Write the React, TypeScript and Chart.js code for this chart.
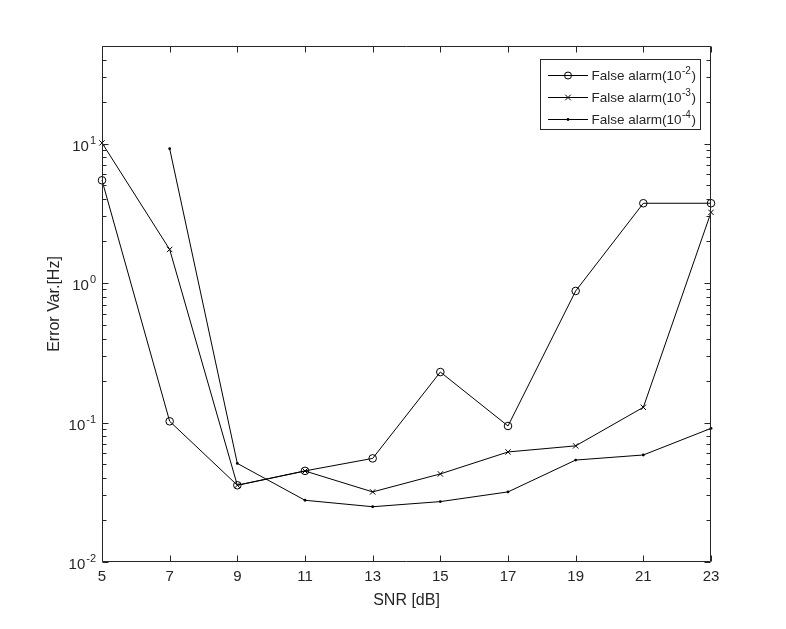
import React, { useEffect, useRef } from "react";
import { Chart, registerables } from "chart.js";

Chart.register(...registerables);

// ---- data ----
const snrDb = [5, 7, 9, 11, 13, 15, 17, 19, 21, 23];
const falseAlarm1e2 = [5.45, 0.102, 0.0355, 0.045, 0.0553, 0.23, 0.0944, 0.877, 3.73, 3.73];
const falseAlarm1e3 = [10.1, 1.74, 0.0355, 0.0449, 0.0318, 0.0428, 0.0615, 0.068, 0.1285, 3.21];
const falseAlarm1e4: (number | null)[] = [null, 9.18, 0.0509, 0.0277, 0.0249, 0.0271, 0.0318, 0.0538, 0.0585, 0.0908];

const xTickValues = [5, 7, 9, 11, 13, 15, 17, 19, 21, 23];
const yDecadeExponents = [-2, -1, 0, 1];
const legendBase = ["False alarm(10", "False alarm(10", "False alarm(10"];
const legendSup = ["-2", "-3", "-4"];
const legendMarkers = ["circle", "cross", "dot"];
const xTitle = "SNR [dB]";
const yTitle = "Error Var.[Hz]";

const Y_MIN = 0.01;
const Y_MAX = 50;
const X_MIN = 5;
const X_MAX = 23;

const FONT = "'Liberation Sans', Arial, Helvetica, sans-serif";
const AX = "#262626";

function drawMarker(ctx: CanvasRenderingContext2D, kind: string, cx: number, cy: number) {
  ctx.save();
  ctx.strokeStyle = "#000";
  ctx.fillStyle = "#000";
  ctx.lineWidth = 1;
  if (kind === "circle") {
    ctx.beginPath();
    ctx.arc(cx, cy, 3.5, 0, Math.PI * 2);
    ctx.stroke();
  } else if (kind === "cross") {
    const r = 2.8;
    ctx.beginPath();
    ctx.moveTo(cx - r, cy - r);
    ctx.lineTo(cx + r, cy + r);
    ctx.moveTo(cx + r, cy - r);
    ctx.lineTo(cx - r, cy + r);
    ctx.stroke();
  } else {
    ctx.beginPath();
    ctx.arc(cx, cy, 1.4, 0, Math.PI * 2);
    ctx.fill();
  }
  ctx.restore();
}

const matlabAxes = {
  id: "matlabAxes",
  afterDraw(chart: any) {
    const { ctx, chartArea: a, scales } = chart;
    const xs = scales.x;
    const ys = scales.y;
    ctx.save();
    ctx.strokeStyle = AX;
    ctx.lineWidth = 1;

    const L = Math.round(a.left) + 0.5;
    const R = Math.round(a.right) - 0.5;
    const T = Math.round(a.top) + 0.5;
    const B = Math.round(a.bottom) - 0.5;

    // box
    ctx.beginPath();
    ctx.rect(L, T, R - L, B - T);
    ctx.stroke();

    // x ticks (bottom + top)
    ctx.beginPath();
    xTickValues.forEach((v) => {
      const px = Math.round(xs.getPixelForValue(v)) + 0.5;
      ctx.moveTo(px, B);
      ctx.lineTo(px, B - 6);
      ctx.moveTo(px, T);
      ctx.lineTo(px, T + 6);
    });
    ctx.stroke();

    // y ticks log (left + right)
    ctx.beginPath();
    yDecadeExponents.forEach((d) => {
      for (let m = 1; m <= 9; m++) {
        const v = m * Math.pow(10, d);
        if (v < Y_MIN - 1e-12 || v > Y_MAX + 1e-9) continue;
        const len = m === 1 ? 6 : 4;
        const py = Math.round(ys.getPixelForValue(v)) + 0.5;
        ctx.moveTo(L, py);
        ctx.lineTo(L + len, py);
        ctx.moveTo(R, py);
        ctx.lineTo(R - len, py);
      }
    });
    ctx.stroke();

    // y tick labels 10^d
    ctx.fillStyle = AX;
    ctx.textBaseline = "alphabetic";
    yDecadeExponents.forEach((d) => {
      const py = ys.getPixelForValue(Math.pow(10, d));
      const sup = String(d);
      ctx.font = `11px ${FONT}`;
      const supW = ctx.measureText(sup).width;
      const rightEdge = a.left - 6;
      ctx.textAlign = "left";
      ctx.fillText(sup, rightEdge - supW, py);
      ctx.font = `15px ${FONT}`;
      ctx.textAlign = "right";
      ctx.fillText("10", rightEdge - supW - 1, py + 7);
    });

    // axis titles
    ctx.font = `16px ${FONT}`;
    ctx.textAlign = "center";
    ctx.textBaseline = "alphabetic";
    ctx.fillText(xTitle, (a.left + a.right) / 2, 605);
    ctx.save();
    ctx.translate(58.5, (a.top + a.bottom) / 2);
    ctx.rotate(-Math.PI / 2);
    ctx.fillText(yTitle, 0, 0);
    ctx.restore();

    // legend
    const bx = 540.5, by = 59.5, bw = 160, bh = 70;
    ctx.fillStyle = "#fff";
    ctx.fillRect(bx, by, bw, bh);
    ctx.strokeStyle = AX;
    ctx.strokeRect(bx, by, bw, bh);
    const rowsY = [75, 97, 118.5];
    legendBase.forEach((label, i) => {
      const yy = rowsY[i];
      ctx.strokeStyle = "#000";
      ctx.beginPath();
      ctx.moveTo(548, Math.round(yy) + 0.5);
      ctx.lineTo(588, Math.round(yy) + 0.5);
      ctx.stroke();
      drawMarker(ctx, legendMarkers[i], 568, Math.round(yy) + 0.5);
      ctx.fillStyle = AX;
      ctx.textAlign = "left";
      ctx.font = `13.5px ${FONT}`;
      const tx = 591.5;
      const base = yy + 5;
      ctx.fillText(label, tx, base);
      const w1 = ctx.measureText(label).width;
      ctx.font = `10px ${FONT}`;
      ctx.fillText(legendSup[i], tx + w1 + 0.5, base - 6);
      const w2 = ctx.measureText(legendSup[i]).width;
      ctx.font = `13.5px ${FONT}`;
      ctx.fillText(")", tx + w1 + w2 + 1, base);
    });

    ctx.restore();
  },
};

export default function App() {
  const canvasRef = useRef<HTMLCanvasElement | null>(null);

  useEffect(() => {
    const canvas = canvasRef.current;
    if (!canvas) return;
    const mk = (ys: (number | null)[]) => snrDb.map((x, i) => ({ x, y: ys[i] }));
    const chart = new Chart(canvas, {
      type: "line",
      data: {
        datasets: [
          {
            label: "False alarm(10^-2)",
            data: mk(falseAlarm1e2) as any,
            borderColor: "#000",
            borderWidth: 1,
            pointStyle: "circle",
            pointRadius: 3.8,
            pointBorderWidth: 1,
            pointBorderColor: "#000",
            pointBackgroundColor: "rgba(0,0,0,0)",
            tension: 0,
            clip: false as any,
          },
          {
            label: "False alarm(10^-3)",
            data: mk(falseAlarm1e3) as any,
            borderColor: "#000",
            borderWidth: 1,
            pointStyle: "crossRot",
            pointRadius: 3.8,
            pointBorderWidth: 1,
            pointBorderColor: "#000",
            pointBackgroundColor: "#000",
            tension: 0,
            clip: false as any,
          },
          {
            label: "False alarm(10^-4)",
            data: mk(falseAlarm1e4) as any,
            borderColor: "#000",
            borderWidth: 1,
            pointStyle: "circle",
            pointRadius: 1.4,
            pointBorderWidth: 0,
            pointBorderColor: "#000",
            pointBackgroundColor: "#000",
            tension: 0,
            spanGaps: false,
            clip: false as any,
          },
        ],
      },
      options: {
        responsive: false,
        animation: false,
        devicePixelRatio: 1,
        layout: { padding: { left: 0, right: 75, top: 46, bottom: 0 } },
        plugins: {
          legend: { display: false },
          tooltip: { enabled: false },
          title: { display: false },
        },
        elements: { line: { borderJoinStyle: "miter" as any } },
        scales: {
          x: {
            type: "linear",
            min: X_MIN,
            max: X_MAX,
            grid: { display: false, drawTicks: false },
            border: { display: false },
            ticks: {
              stepSize: 2,
              padding: 6,
              color: AX,
              font: { family: FONT, size: 15 },
              maxRotation: 0,
              autoSkip: false,
            },
            afterBuildTicks: (s: any) => {
              s.ticks = xTickValues.map((v) => ({ value: v }));
            },
            afterFit: (s: any) => {
              s.height = 67;
            },
          },
          y: {
            type: "logarithmic",
            min: Y_MIN,
            max: Y_MAX,
            grid: { display: false, drawTicks: false },
            border: { display: false },
            ticks: { display: false },
            afterFit: (s: any) => {
              s.width = 102;
            },
          },
        },
      },
      plugins: [matlabAxes],
    });
    return () => chart.destroy();
  }, []);

  return (
    <div style={{ position: "absolute", left: 0, top: 0, width: 786, height: 629, background: "#fff" }}>
      <canvas ref={canvasRef} width={786} height={629} style={{ width: 786, height: 629, display: "block" }} />
    </div>
  );
}
